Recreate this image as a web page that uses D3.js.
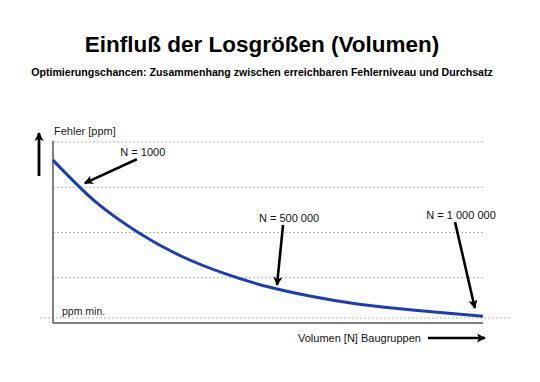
<!DOCTYPE html>
<html>
<head>
<meta charset="utf-8">
<script src="https://cdn.jsdelivr.net/npm/d3@7"></script>
<style>
  body { margin: 0; background: #fff; }
  svg { display: block; font-family: "Liberation Sans", Arial, sans-serif; }
</style>
</head>
<body>
<svg id="chart" width="540" height="382"></svg>
<script>
// curve: volume N vs. error level (schematic ppm units)
const volumes = [0, 100000, 200000, 300000, 400000, 500000, 600000, 700000, 800000, 900000, 1000000];
const ppmValues = [360, 267, 199, 147, 109, 80, 59, 43, 32, 23, 15];

const gridLevels = [100, 200, 300, 400];
const ppmMin = 11;

// annotation arrows: label, arrow tip and arrow tail in data units
const annLabels = ['N = 1000', 'N = 500 000', 'N = 1 000 000'];
const annTips = [[74000, 309], [521000, 84], [981000, 33]];
const annTails = [[195000, 362], [535000, 217], [935000, 223]];

const titleText = 'Einfluß der Losgrößen (Volumen)';
const subtitleText = 'Optimierungschancen: Zusammenhang zwischen erreichbaren Fehlerniveau und Durchsatz';
const yLabel = 'Fehler [ppm]';
const xLabel = 'Volumen [N] Baugruppen';
const minLabel = 'ppm min.';

const svg = d3.select('#chart');

const x = d3.scaleLinear().domain([0, 1000000]).range([53, 483]);
const y = d3.scaleLinear().domain([0, 400]).range([323, 142]);

// arrow heads
const defs = svg.append('defs');
defs.append('marker')
    .attr('id', 'head')
    .attr('viewBox', '0 0 10 10')
    .attr('refX', 9).attr('refY', 5)
    .attr('markerWidth', 11).attr('markerHeight', 9)
    .attr('markerUnits', 'userSpaceOnUse')
    .attr('orient', 'auto')
    .append('path')
    .attr('d', 'M0,0 L10,5 L0,10 L2.5,5 Z')
    .attr('fill', '#000');

// titles
svg.append('text')
    .attr('x', 262).attr('y', 52)
    .attr('text-anchor', 'middle')
    .attr('font-size', 22.5).attr('font-weight', 'bold')
    .attr('fill', '#000')
    .text(titleText);

svg.append('text')
    .attr('x', 262).attr('y', 76)
    .attr('text-anchor', 'middle')
    .attr('font-size', 10.6).attr('font-weight', 'bold')
    .attr('fill', '#000')
    .text(subtitleText);

// dotted grid lines
svg.selectAll('.grid')
    .data(gridLevels)
    .enter()
    .append('line')
    .attr('class', 'grid')
    .attr('x1', x(0)).attr('x2', x(1000000))
    .attr('y1', d => y(d)).attr('y2', d => y(d))
    .attr('stroke', '#b5b5b5')
    .attr('stroke-width', 1)
    .attr('stroke-dasharray', '2,2');

// ppm min line, reaches past the axes
svg.append('line')
    .attr('x1', 40).attr('x2', 512)
    .attr('y1', y(ppmMin)).attr('y2', y(ppmMin))
    .attr('stroke', '#b5b5b5')
    .attr('stroke-width', 1)
    .attr('stroke-dasharray', '2,2');

// axes
svg.append('line')
    .attr('x1', x(0)).attr('x2', x(0))
    .attr('y1', y(400) - 1).attr('y2', y(0))
    .attr('stroke', '#555').attr('stroke-width', 1.5);
svg.append('line')
    .attr('x1', x(0)).attr('x2', x(1000000))
    .attr('y1', y(0)).attr('y2', y(0))
    .attr('stroke', '#555').attr('stroke-width', 1.5);

// the curve
const points = volumes.map((v, i) => [v, ppmValues[i]]);
const line = d3.line()
    .x(d => x(d[0]))
    .y(d => y(d[1]))
    .curve(d3.curveMonotoneX);

svg.append('path')
    .datum(points)
    .attr('d', line)
    .attr('fill', 'none')
    .attr('stroke', '#1c3db6')
    .attr('stroke-width', 3);

// annotations
annLabels.forEach((label, i) => {
    const tail = annTails[i];
    const tip = annTips[i];
    svg.append('line')
        .attr('x1', x(tail[0])).attr('y1', y(tail[1]))
        .attr('x2', x(tip[0])).attr('y2', y(tip[1]))
        .attr('stroke', '#000')
        .attr('stroke-width', 2.6)
        .attr('marker-end', 'url(#head)');
    svg.append('text')
        .attr('x', x(tail[0]) + 6)
        .attr('y', y(tail[1]) - 3)
        .attr('text-anchor', 'middle')
        .attr('font-size', 11)
        .attr('fill', '#111')
        .text(label);
});

// axis labels and arrows
svg.append('line')
    .attr('x1', 39).attr('y1', 176)
    .attr('x2', 39).attr('y2', 133)
    .attr('stroke', '#000').attr('stroke-width', 2.8)
    .attr('marker-end', 'url(#head)');

svg.append('text')
    .attr('x', 54).attr('y', 135)
    .attr('font-size', 11)
    .attr('fill', '#222')
    .text(yLabel);

svg.append('text')
    .attr('x', 62).attr('y', 315)
    .attr('font-size', 10.5)
    .attr('fill', '#222')
    .text(minLabel);

svg.append('text')
    .attr('x', 298).attr('y', 342)
    .attr('font-size', 11)
    .attr('fill', '#111')
    .text(xLabel);

svg.append('line')
    .attr('x1', 428).attr('y1', 338)
    .attr('x2', 485).attr('y2', 338)
    .attr('stroke', '#000').attr('stroke-width', 2.6)
    .attr('marker-end', 'url(#head)');
</script>
</body>
</html>
